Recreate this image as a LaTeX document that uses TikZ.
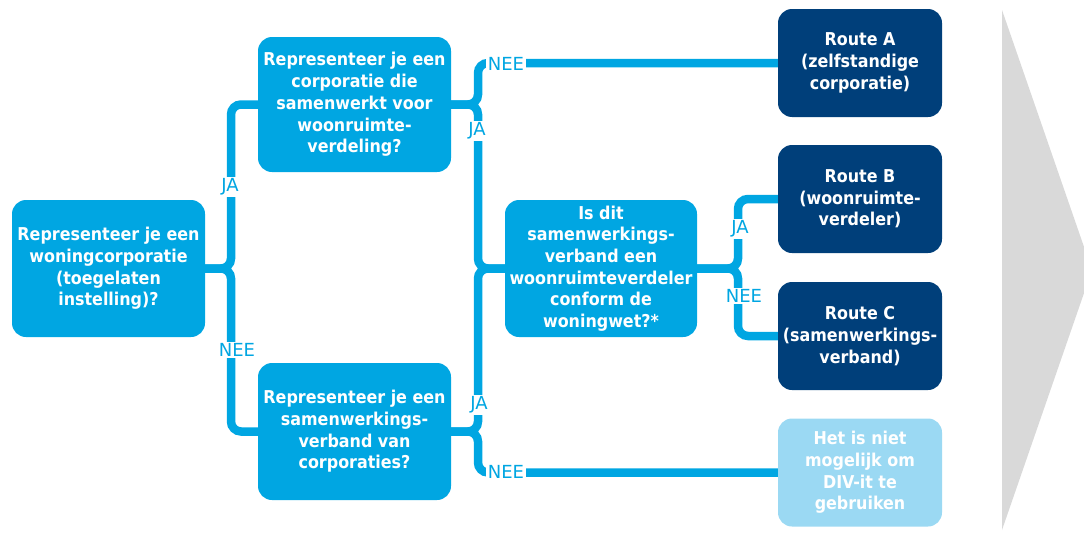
\documentclass[tikz,border=0pt]{standalone}
\usepackage{fontspec}
\setmainfont{DejaVu Sans}
\newfontfamily\boxfont{DejaVu Sans Condensed}[UprightFont=*, BoldFont=* Bold]
\definecolor{divcyan}{RGB}{0,166,226}
\definecolor{divnavy}{RGB}{0,63,122}
\definecolor{divlight}{RGB}{155,217,243}
\definecolor{divgray}{RGB}{217,217,217}

\begin{document}
\begin{tikzpicture}[x=1pt, y=-1pt,
    vraag/.style={fill=divcyan, text=white, rounded corners=14pt, minimum width=193pt, minimum height=137pt,
        align=center, inner sep=0pt, font=\boxfont\bfseries\fontsize{17.7}{21.7}\selectfont},
    route/.style={vraag, fill=divnavy, minimum width=164pt, minimum height=108pt},
    geenroute/.style={route, fill=divlight},
    lijn/.style={draw=divcyan, line width=8.5pt, rounded corners=10pt},
    antwoord/.style={fill=white, text=divcyan, inner sep=1.5pt, font=\fontsize{18}{18}\selectfont}]
    \useasboundingbox (0,0) rectangle (1084,533);

    \fill[divgray] (1002,10) -- (1092,270) -- (1002,530) -- cycle;

    \node[vraag] (q1) at (108.5,268.5) {Representeer je een\\woningcorporatie\\(toegelaten\\instelling)?};
    \node[vraag, minimum height=135pt] (q2) at (354.5,104.5) {Representeer je een\\corporatie die\\samenwerkt voor\\woonruimte-\\verdeling?};
    \node[vraag] (q3) at (354.5,431.5) {Representeer je een\\samenwerkings-\\verband van\\corporaties?};
    \node[vraag, minimum width=192pt] (q4) at (601,268.5) {Is dit\\samenwerkings-\\verband een\\woonruimteverdeler\\conform de\\woningwet?*};

    \node[route] (ra) at (860,63) {Route A\\(zelfstandige\\corporatie)};
    \node[route] (rb) at (860,199) {Route B\\(woonruimte-\\verdeler)};
    \node[route] (rc) at (860,336) {Route C\\(samenwerkings-\\verband)};
    \node[geenroute] (rd) at (860,472.5) {Het is niet\\mogelijk om\\DIV-it te\\gebruiken};

    \coordinate (t1) at (231,0);
    \coordinate (t2) at (478,0);
    \coordinate (t3) at (738,0);

    \draw[lijn] (q1.east) -- (q1.east -| t1) -- (t1 |- q2.west) -- (q2.west);
    \draw[lijn] (q1.east) -- (q1.east -| t1) -- (t1 |- q3.west) -- (q3.west);
    \draw[lijn] (q2.east) -- (q2.east -| t2) -- (t2 |- ra.west) -- (ra.west);
    \draw[lijn] (q2.east) -- (q2.east -| t2) -- (t2 |- q4.west) -- (q4.west);
    \draw[lijn] (q3.east) -- (q3.east -| t2) -- (t2 |- q4.west) -- (q4.west);
    \draw[lijn] (q3.east) -- (q3.east -| t2) -- (t2 |- rd.west) -- (rd.west);
    \draw[lijn] (q4.east) -- (q4.east -| t3) -- (t3 |- rb.west) -- (rb.west);
    \draw[lijn] (q4.east) -- (q4.east -| t3) -- (t3 |- rc.west) -- (rc.west);

    \node[antwoord] (ja1) at (230,187) {JA};
    \node[antwoord] (nee1) at (237,350) {NEE};
    \node[antwoord] (nee2) at (506,64) {NEE};
    \node[antwoord] (ja2) at (477,131) {JA};
    \node[antwoord] (ja3) at (479,405) {JA};
    \node[antwoord] (nee3) at (506,472) {NEE};
    \node[antwoord] (ja4) at (740,229) {JA};
    \node[antwoord] (nee4) at (744,296) {NEE};
\end{tikzpicture}
\end{document}
